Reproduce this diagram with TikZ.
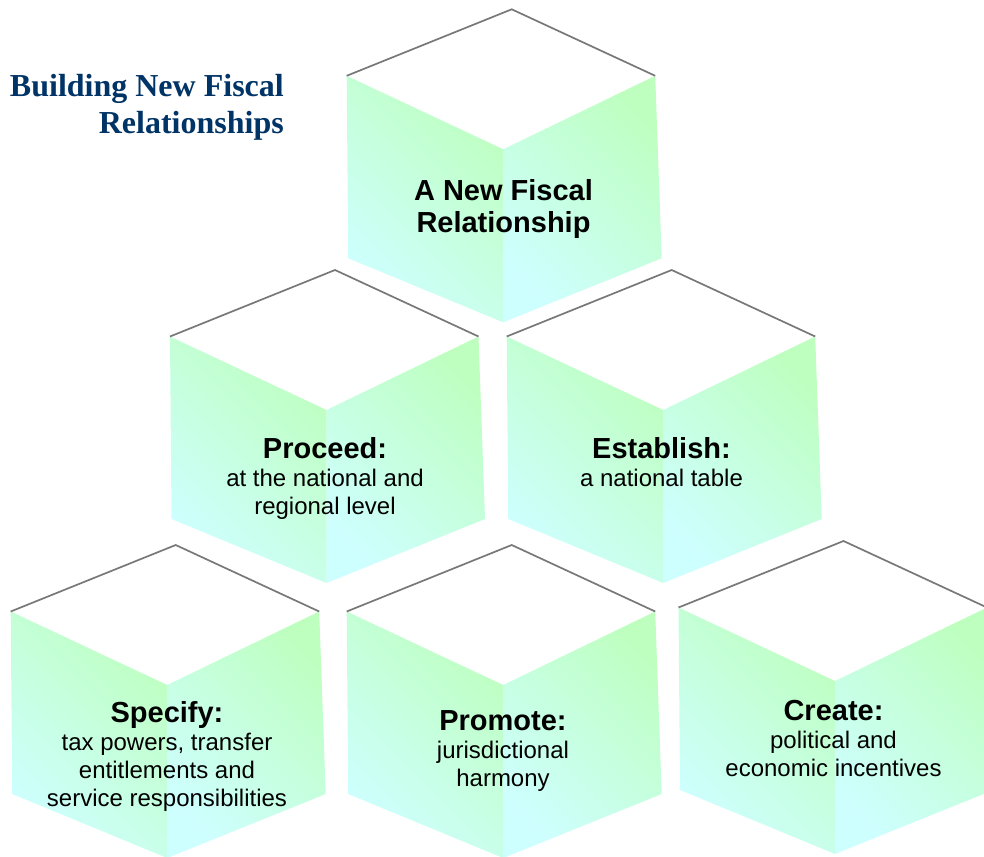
\documentclass[tikz,border=0pt]{standalone}
\usepackage{fontspec}
\setmainfont{Liberation Sans}
\newfontfamily\titlefont{Liberation Serif}
\definecolor{facegreen}{RGB}{190,255,192}
\definecolor{facecyan}{RGB}{206,255,255}
\definecolor{edgegray}{RGB}{120,120,120}
\definecolor{titleblue}{RGB}{0,51,102}
\tikzset{
  face/.style={shade, shading=axis, top color=facegreen, bottom color=facecyan, shading angle=-45},
  topedge/.style={draw=edgegray, line width=1.7pt, line join=miter},
  cube/.pic={
    \coordinate (-apex) at (0,0);
    \coordinate (-l) at (-165,66.5);
    \coordinate (-r) at (143.5,66.5);
    \coordinate (-c) at (-8.5,140);
    \coordinate (-lb) at (-163.5,249);
    \coordinate (-b) at (-8.5,313);
    \coordinate (-rb) at (150,249);
    \fill[white] (-apex) -- (-l) -- (-c) -- (-r) -- cycle;
    \path[face] (-l) -- (-c) -- (-b) -- (-lb) -- cycle;
    \path[face] (-c) -- (-r) -- (-rb) -- (-b) -- cycle;
    \draw[topedge] (-l) -- (-apex) -- (-r);
  },
  cubetext/.style={anchor=base, inner sep=0pt, font=\fontsize{24}{28}\selectfont},
  titletext/.style={anchor=base east, inner sep=0pt, text=titleblue, font=\titlefont\bfseries\fontsize{32}{36}\selectfont}
}
\newcommand\headline[1]{{\fontsize{29}{28}\selectfont\bfseries #1}}
\begin{document}
\begin{tikzpicture}[x=1pt, y=-1pt]
\useasboundingbox (0,0) rectangle (984,856);
% row 1
\pic (top) at (511.7,9.3) {cube};
% row 2
\pic (proceed) at (335,270) {cube};
\pic (establish) at (671.7,270) {cube};
% row 3
\pic (specify) at (175.7,545) {cube};
\pic (promote) at (511.7,545) {cube};
\pic (create) at (843.5,541) {cube};
% texts
\node[titletext] (title) at (284,97) {\begin{tabular}[t]{@{}r@{}}Building New Fiscal\\Relationships\end{tabular}};
\node[cubetext] (ttop) at (503.5,200) {\fontsize{29}{32}\selectfont\bfseries\begin{tabular}[t]{@{}c@{}}A New Fiscal\\Relationship\end{tabular}};
\node[cubetext] (tproceed) at (325,458) {\begin{tabular}[t]{@{}c@{}}\headline{Proceed:}\\at the national and\\regional level\end{tabular}};
\node[cubetext] (testablish) at (661.5,458) {\begin{tabular}[t]{@{}c@{}}\headline{Establish:}\\a national table\end{tabular}};
\node[cubetext] (tspecify) at (167,722) {\begin{tabular}[t]{@{}c@{}}\headline{Specify:}\\tax powers, transfer\\entitlements and\\service responsibilities\end{tabular}};
\node[cubetext] (tpromote) at (503,730) {\begin{tabular}[t]{@{}c@{}}\headline{Promote:}\\jurisdictional\\harmony\end{tabular}};
\node[cubetext] (tcreate) at (833.5,720) {\begin{tabular}[t]{@{}c@{}}\headline{Create:}\\political and\\economic incentives\end{tabular}};
\end{tikzpicture}
\end{document}
